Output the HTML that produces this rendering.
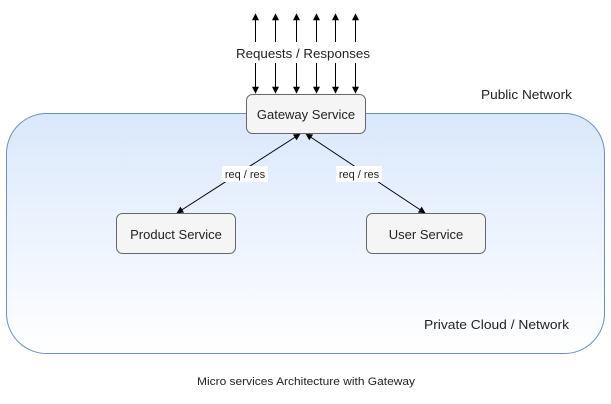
<!DOCTYPE html>
<html><head><meta charset="utf-8"><style>
html,body{margin:0;padding:0;background:#fff;width:611px;height:404px;overflow:hidden}
text{font-family:"Liberation Sans","DejaVu Sans",sans-serif;fill:#222}
</style></head><body>
<svg width="611" height="404" viewBox="0 0 611 404" xmlns="http://www.w3.org/2000/svg">
<defs>
<linearGradient id="g" x1="0" y1="0" x2="0" y2="1">
<stop offset="0" stop-color="#dae8fc"/><stop offset="1" stop-color="#ffffff"/>
</linearGradient>
<marker id="a" viewBox="0 0 10 10" refX="9" refY="5" markerWidth="7" markerHeight="7" orient="auto-start-reverse" markerUnits="userSpaceOnUse">
<path d="M0,0 L10,5 L0,10 z" fill="#000"/></marker>
</defs>
<rect x="6.5" y="113.5" width="598" height="240" rx="40" fill="url(#g)" stroke="#6c8ebf"/>
<g stroke="#000" stroke-width="1">
<line x1="255.5" y1="42" x2="255.5" y2="14" marker-end="url(#a)"/>
<line x1="275.5" y1="42" x2="275.5" y2="14" marker-end="url(#a)"/>
<line x1="296.5" y1="42" x2="296.5" y2="14" marker-end="url(#a)"/>
<line x1="316.5" y1="42" x2="316.5" y2="14" marker-end="url(#a)"/>
<line x1="335.5" y1="42" x2="335.5" y2="14" marker-end="url(#a)"/>
<line x1="355.5" y1="42" x2="355.5" y2="14" marker-end="url(#a)"/>
<line x1="255.5" y1="63" x2="255.5" y2="93" marker-end="url(#a)"/>
<line x1="275.5" y1="63" x2="275.5" y2="93" marker-end="url(#a)"/>
<line x1="296.5" y1="63" x2="296.5" y2="93" marker-end="url(#a)"/>
<line x1="316.5" y1="63" x2="316.5" y2="93" marker-end="url(#a)"/>
<line x1="335.5" y1="63" x2="335.5" y2="93" marker-end="url(#a)"/>
<line x1="355.5" y1="63" x2="355.5" y2="93" marker-end="url(#a)"/>
<line x1="300" y1="134" x2="177" y2="213" marker-start="url(#a)" marker-end="url(#a)"/>
<line x1="306" y1="134" x2="425" y2="213" marker-start="url(#a)" marker-end="url(#a)"/>
</g>
<text x="236" y="58" font-size="13" textLength="134" lengthAdjust="spacingAndGlyphs">Requests / Responses</text>
<rect x="246.5" y="94.5" width="119" height="39" rx="6" fill="#f5f5f5" stroke="#666"/>
<text x="306" y="119" font-size="13" text-anchor="middle">Gateway Service</text>
<rect x="116.5" y="213.5" width="119" height="40" rx="6" fill="#f5f5f5" stroke="#666"/>
<text x="176" y="239" font-size="13" text-anchor="middle">Product Service</text>
<rect x="366.5" y="213.5" width="119" height="40" rx="6" fill="#f5f5f5" stroke="#666"/>
<text x="426" y="239" font-size="13" text-anchor="middle">User Service</text>
<rect x="222" y="166" width="46" height="16" fill="#fff"/>
<text x="245" y="178" font-size="11" text-anchor="middle">req / res</text>
<rect x="336" y="166" width="46" height="16" fill="#fff"/>
<text x="359" y="178" font-size="11" text-anchor="middle">req / res</text>
<text x="481" y="99" font-size="13" textLength="91" lengthAdjust="spacingAndGlyphs">Public Network</text>
<text x="424" y="329" font-size="13" textLength="145" lengthAdjust="spacingAndGlyphs">Private Cloud / Network</text>
<text x="197" y="385" font-size="11" textLength="218" lengthAdjust="spacingAndGlyphs">Micro services Architecture with Gateway</text>
</svg>
</body></html>
